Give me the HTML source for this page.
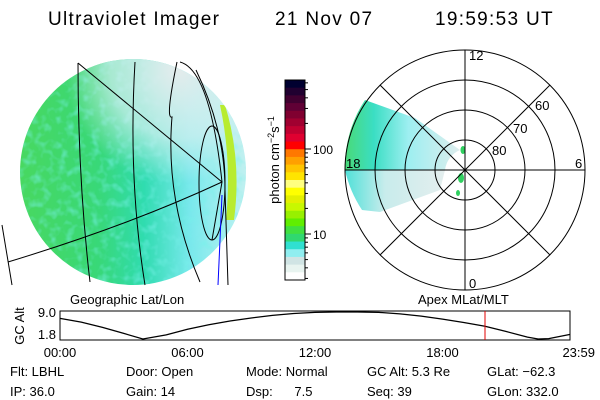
<!DOCTYPE html>
<html><head><meta charset="utf-8"><style>
html,body{margin:0;padding:0;background:#fff}
svg{display:block}
text{font-family:"Liberation Sans",sans-serif;fill:#000}
</style></head><body>
<svg id="root" width="600" height="400" viewBox="0 0 600 400">
<defs>
 <clipPath id="globeClip"><circle cx="133" cy="172" r="113"/></clipPath>
 <linearGradient id="globeGrad" x1="0" x2="1" y1="0" y2="0">
  <stop offset="0" stop-color="#48d860"/><stop offset="0.35" stop-color="#38d878"/>
  <stop offset="0.55" stop-color="#30dcb0"/><stop offset="0.75" stop-color="#78e8ec"/>
  <stop offset="0.92" stop-color="#a8f0f0"/><stop offset="1" stop-color="#c0f0f0"/>
 </linearGradient>
 <radialGradient id="globeTop" cx="0.7" cy="0.05" r="0.5">
  <stop offset="0" stop-color="#e4ecec" stop-opacity="1"/><stop offset="0.6" stop-color="#d8f0f0" stop-opacity="0.7"/><stop offset="1" stop-color="#d8f0f0" stop-opacity="0"/>
 </radialGradient>
 <filter id="mottle" x="0" y="0" width="1" height="1">
  <feTurbulence type="fractalNoise" baseFrequency="0.12" numOctaves="2" seed="3"/>
  <feColorMatrix type="matrix" values="0 0 0 0 0.19  0 0 0 0 0.88  0 0 0 0 0.82  0 0 0 2.2 -1.0"/>
 </filter>
 <linearGradient id="auroraGrad" x1="0" x2="1" y1="0" y2="0">
  <stop offset="0" stop-color="#40d870"/><stop offset="0.25" stop-color="#30dcc0"/>
  <stop offset="0.55" stop-color="#98eef0"/><stop offset="1" stop-color="#dcecec"/>
 </linearGradient>
 <linearGradient id="auroraLow" x1="0" x2="1" y1="0" y2="0">
  <stop offset="0" stop-color="#50e0d8"/><stop offset="0.4" stop-color="#c8ecec"/><stop offset="1" stop-color="#e4eeee"/>
 </linearGradient>
</defs>

<g>
 <text x="48" y="25" font-size="19" letter-spacing="1.3">Ultraviolet Imager</text>
 <text x="275" y="25" font-size="19" letter-spacing="1.3">21 Nov 07</text>
 <text x="435" y="25" font-size="19" letter-spacing="1.3">19:59:53 UT</text>
</g>

<g>
 <g clip-path="url(#globeClip)">
  <rect x="20" y="59" width="226" height="226" fill="url(#globeGrad)"/>
  <rect x="20" y="59" width="226" height="226" filter="url(#mottle)" opacity="0.6"/>
  <rect x="20" y="59" width="226" height="226" fill="url(#globeTop)"/>
  <path d="M225,105 Q242,160 234,220 L226,220 Q232,160 220,105 Z" fill="#b8ec30"/>
 </g>
 <g fill="none" stroke="#000" stroke-width="1">
  <path d="M78,63 L222,182"/>
  <path d="M8,262 Q130,225 222,182"/>
  <path d="M78,63 Q78,180 90,282"/>
  <path d="M135,62 Q128,180 145,285"/>
  <path d="M177,62 Q165,120 172,117 Q165,200 200,282"/>
  <path d="M180,62 Q210,70 222,182 L212,240"/>
  <ellipse cx="212" cy="183" rx="13" ry="57"/>
  <path d="M196,70 Q225,130 225,190 L228,285"/>
  <path d="M2,225 L12,285"/>
 </g>
 <path d="M222,195 L218,285" stroke="#0000ff" stroke-width="1"/>
</g>

<g id="cbar"></g>
<text transform="translate(279,160) rotate(-90)" text-anchor="middle" font-size="13">photon cm<tspan font-size="9" dy="-5">−2</tspan><tspan dy="5">s</tspan><tspan font-size="9" dy="-5">−1</tspan></text>

<g>
 <path d="M345,170 A120,120 0 0 1 365,100 L415,118 L460,150 A25,25 0 0 0 445,170 Z" fill="url(#auroraGrad)" opacity="0.95"/>
 <path d="M345,170 A120,120 0 0 0 362,210 L380,212 L440,190 L445,170 Z" fill="url(#auroraLow)"/>
 <ellipse cx="463" cy="150" rx="2.5" ry="4" fill="#30d060"/>
 <ellipse cx="461" cy="178" rx="3" ry="5" fill="#30d060"/>
 <ellipse cx="458" cy="193" rx="2" ry="3" fill="#30d060"/>
 <g fill="none" stroke="#000" stroke-width="1">
  <circle cx="465" cy="170" r="120"/><circle cx="465" cy="170" r="90"/>
  <circle cx="465" cy="170" r="60"/><circle cx="465" cy="170" r="30"/>
  <line x1="345" y1="170" x2="585" y2="170"/><line x1="465" y1="50" x2="465" y2="290"/>
  <line x1="380" y1="85" x2="550" y2="255"/><line x1="380" y1="255" x2="550" y2="85"/>
 </g>
 <g font-size="13">
  <text x="469" y="60">12</text>
  <text x="469" y="288">0</text>
  <text x="346" y="168">18</text>
  <text x="575" y="168">6</text>
  <text x="535" y="110">60</text>
  <text x="513" y="133">70</text>
  <text x="492" y="155">80</text>
 </g>
</g>

<text x="70" y="304" font-size="13">Geographic Lat/Lon</text>
<text x="418" y="304" font-size="13">Apex MLat/MLT</text>

<g id="alt">
 <text transform="translate(24,326) rotate(-90)" text-anchor="middle" font-size="13">GC Alt</text>
</g>

<g font-size="13">
 <text x="10" y="376">Flt: LBHL</text>
 <text x="126" y="376">Door: Open</text>
 <text x="246" y="376">Mode: Normal</text>
 <text x="367" y="376">GC Alt: 5.3 Re</text>
 <text x="487" y="376">GLat: −62.3</text>
 <text x="10" y="396">IP: 36.0</text>
 <text x="126" y="396">Gain: 14</text>
 <text x="246" y="396">Dsp:&#160;&#160;&#160;&#160;&#160;&#160;7.5</text>
 <text x="367" y="396">Seq: 39</text>
 <text x="487" y="396">GLon: 332.0</text>
</g>
</svg>
<script>
const NS='http://www.w3.org/2000/svg';
// colorbar data
const cbColors=['#000030','#200030','#400030','#600035','#800030','#a00030','#c00030','#e00030','#ff0000','#ff7800','#ffa000','#ffc400','#ffe400','#ffff80','#ffff00','#e4f000','#c8f800','#98f000','#60ee00','#40e040','#30d870','#30e0d0','#90eef0','#d0e4e4','#e8f4f0','#ffffff'];
const cbTickLabels=['100','10'];
const cbTickValues=[100,10];
// altitude data
const altHours=[0,1,2,3,3.9,5,6,7,8,9,10,11,12,13,14,15,16,17,18,19,20,21,22,22.5,23,23.98];
const altValues=[7.3,6.3,4.9,3.3,1.8,2.9,4.4,5.6,6.6,7.4,8.1,8.6,8.9,9.0,9.0,8.9,8.5,7.9,7.1,6.2,5.2,3.8,2.3,1.8,1.9,3.0];
const altTickLabels=['00:00','06:00','12:00','18:00','23:59'];
const altTickHours=[0,6,12,18,23.98];
const altYLabels=['9.0','1.8'];
const altYValues=[9.0,1.8];
const currentHour=20.0;

function mk(tag,attrs,parent){const e=document.createElementNS(NS,tag);for(const k in attrs)e.setAttribute(k,attrs[k]);parent.appendChild(e);return e;}

const cb=document.getElementById('cbar');
const cbX=285,cbW=20,cbTop=80,cbBot=280;
const bandH=(cbBot-cbTop)/cbColors.length;
cbColors.forEach((c,i)=>{
 const r=mk('rect',{x:cbX,y:cbTop+i*bandH,width:cbW,height:bandH+0.5,fill:c},cb);
 
 
});
mk('rect',{x:cbX,y:cbTop,width:cbW,height:cbBot-cbTop,fill:'none',stroke:'#000','stroke-width':1},cb);
function cbY(v){return 234-(Math.log10(v)-1)*85;}
for(let d=1;d<=3;d++){for(let m=1;m<10;m++){const v=m*Math.pow(10,d-1);const y=cbY(v);if(y<cbTop||y>cbBot)continue;
 mk('line',{x1:cbX+cbW,x2:cbX+cbW+(m===1?6:3),y1:y,y2:y,stroke:'#000'},cb);}}
cbTickValues.forEach((v,i)=>{const t=mk('text',{x:cbX+cbW+8,y:cbY(v)+5,'font-size':12},cb);t.textContent=cbTickLabels[i];
 
 });

const alt=document.getElementById('alt');
const ax0=60,ax1=570,ay0=311,ay1=340;
const xS=h=>ax0+(h/24)*(ax1-ax0);
const yS=v=>ay0+1+(9.0-v)/(9.0-1.8)*(ay1-ay0-2);
const box=mk('rect',{x:ax0,y:ay0,width:ax1-ax0,height:ay1-ay0,fill:'none',stroke:'#000'},alt);


const line=mk('polyline',{points:altHours.map((h,i)=>xS(h)+','+yS(altValues[i])).join(' '),fill:'none',stroke:'#000','stroke-width':1.2},alt);


const cur=mk('line',{x1:xS(currentHour),x2:xS(currentHour),y1:ay0,y2:ay1,stroke:'#e00000'},alt);


altYValues.forEach((v,i)=>{const t=mk('text',{x:ax0-4,y:(i===0?ay0+6:ay1-1),'text-anchor':'end','font-size':13},alt);t.textContent=altYLabels[i];
 
 });
altTickHours.forEach((h,i)=>{const anchor=i===altTickHours.length-1?'end':'middle';const x=i===altTickHours.length-1?595:xS(h);
 const t=mk('text',{x:x,y:357,'text-anchor':anchor,'font-size':13},alt);t.textContent=altTickLabels[i];
 
 });
</script>
</body></html>
